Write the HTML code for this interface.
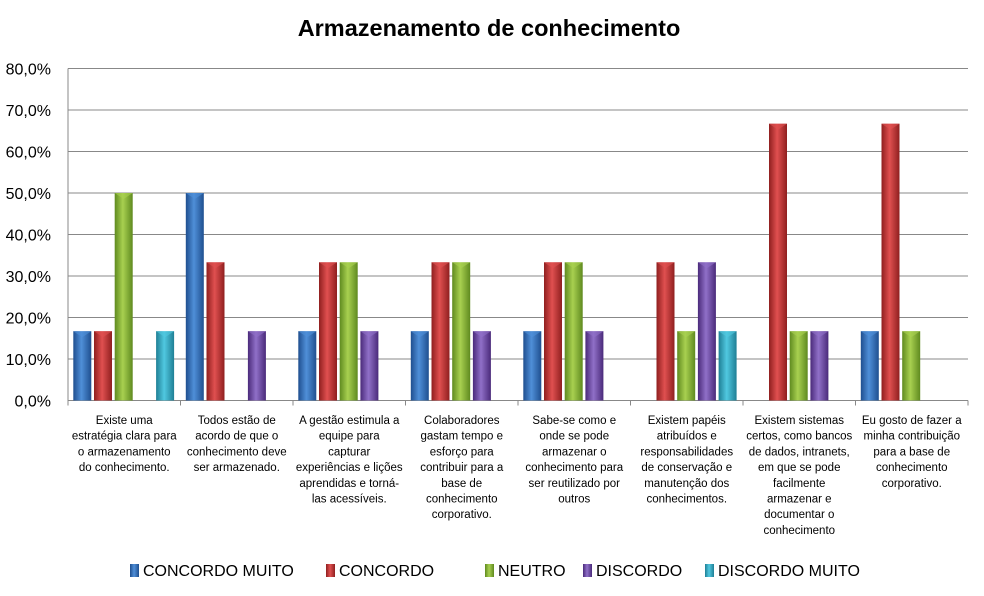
<!DOCTYPE html>
<html><head><meta charset="utf-8"><style>
body{margin:0;background:#fff;}
svg{display:block;font-family:"Liberation Sans","DejaVu Sans",sans-serif;}
</style></head><body>
<svg id="chart" width="984" height="596" xmlns="http://www.w3.org/2000/svg">
<defs></defs>
<text x="489" y="36" text-anchor="middle" font-size="23.5" font-weight="bold" fill="#000">Armazenamento de conhecimento</text>
<g id="grid"></g><g id="bars"></g><g id="labels"></g><g id="legend"></g>
</svg>
<script>
const categories=[
["Existe uma","estratégia clara para","o armazenamento","do conhecimento."],
["Todos estão de","acordo de que o","conhecimento deve","ser armazenado."],
["A gestão estimula a","equipe para","capturar","experiências e lições","aprendidas e torná-","las acessíveis."],
["Colaboradores","gastam tempo e","esforço para","contribuir para a","base de","conhecimento","corporativo."],
["Sabe-se como e","onde se pode","armazenar o","conhecimento para","ser reutilizado por","outros"],
["Existem papéis","atribuídos e","responsabilidades","de conservação e","manutenção dos","conhecimentos."],
["Existem sistemas","certos, como bancos","de dados, intranets,","em que se pode","facilmente","armazenar e","documentar o","conhecimento"],
["Eu gosto de fazer a","minha contribuição","para a base de","conhecimento","corporativo."]];
const seriesNames=["CONCORDO MUITO","CONCORDO","NEUTRO","DISCORDO","DISCORDO MUITO"];
const concordoMuito=[16.7,50,16.7,16.7,16.7,0,0,16.7];
const concordo=[16.7,33.3,33.3,33.3,33.3,33.3,66.7,66.7];
const neutro=[50,0,33.3,33.3,33.3,16.7,16.7,16.7];
const discordo=[0,16.7,16.7,16.7,16.7,33.3,16.7,0];
const discordoMuito=[16.7,0,0,0,0,16.7,0,0];
const yTicks=["0,0%","10,0%","20,0%","30,0%","40,0%","50,0%","60,0%","70,0%","80,0%"];
const series=[concordoMuito,concordo,neutro,discordo,discordoMuito];
const colors=[["#1f4f8f","#4f8fd8"],["#8f1f1f","#e05050"],["#5f8a1f","#a8d050"],["#4a2a7a","#9070c8"],["#1f7f95","#50c8e0"]];
const NS="http://www.w3.org/2000/svg";
const L=68,R=968,T=68.5,B=400.5,yMax=80;
const y=v=>B-(v/yMax)*(B-T);
const cw=(R-L)/categories.length;
function mk(t,a,p){const e=document.createElementNS(NS,t);for(const k in a)e.setAttribute(k,a[k]);p.appendChild(e);return e;}
const defs=document.querySelector('defs');
colors.forEach((c,i)=>{const g=mk('linearGradient',{id:'g'+i,x1:0,x2:1,y1:0,y2:0},defs);
mk('stop',{offset:0,'stop-color':c[0]},g);mk('stop',{offset:0.45,'stop-color':c[1]},g);mk('stop',{offset:1,'stop-color':c[0]},g);});
const grid=document.getElementById('grid');
yTicks.forEach((t,i)=>{const v=i*10;
const ln=mk('line',{x1:L,x2:R,y1:y(v),y2:y(v),stroke:'#888','stroke-width':1},grid);


const tx=mk('text',{x:51,y:y(v)+6,'text-anchor':'end','font-size':16,fill:'#000'},grid);tx.textContent=t;

});
const ax=mk('line',{x1:L,x2:L,y1:T,y2:B,stroke:'#888'},grid);


for(let i=0;i<=categories.length;i++){const tk=mk('line',{x1:L+i*cw,x2:L+i*cw,y1:B,y2:B+5,stroke:'#888'},grid);

}
const bars=document.getElementById('bars');
const slot=20.7,bw=18;
categories.forEach((c,ci)=>{const x0=L+ci*cw+(cw-slot*5)/2+0.8;
series.forEach((s,si)=>{const v=s[ci];if(!v)return;const x=x0+si*slot,yy=y(v);
const r=mk('rect',{x:x,y:yy,width:bw,height:B-yy,fill:'url(#g'+si+')'},bars);


mk('polygon',{points:`${x},${yy} ${x+bw},${yy} ${x+bw/2},${yy+6}`,fill:colors[si][1],opacity:0.6},bars);});
const lab=document.getElementById('labels');
c.forEach((line,li)=>{const t=mk('text',{x:L+ci*cw+cw/2,y:424+li*15.7,'text-anchor':'middle','font-size':11.5,fill:'#000'},lab);t.textContent=line;

});});
const leg=document.getElementById('legend');
const lx=[130,326,485,583,705];
seriesNames.forEach((n,i)=>{const r=mk('rect',{x:lx[i],y:564,width:9,height:13,fill:'url(#g'+i+')'},leg);


const t=mk('text',{x:lx[i]+13,y:576,'font-size':16,fill:'#000'},leg);t.textContent=n;

});
</script>
</body></html>
